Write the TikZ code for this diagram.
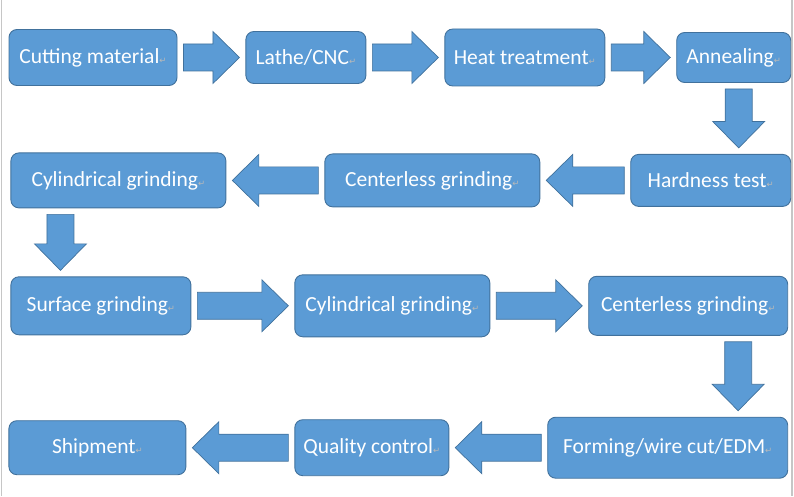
\documentclass[tikz,border=0pt]{standalone}
\usepackage{fontspec}
\setmainfont{Carlito}
\newfontfamily\markfont{DejaVu Sans}
\usepackage{tikz}
\usetikzlibrary{positioning, calc}
\usepackage{xcolor}
\definecolor{boxblue}{HTML}{5B9BD5}
\definecolor{boxedge}{HTML}{41719C}
\definecolor{markgray}{HTML}{B9B9B9}
\definecolor{pageedge}{HTML}{C6C6C6}

\newcommand{\pmark}{{\markfont\fontsize{8.5}{8.5}\selectfont\textcolor{markgray}{↵}}}
\newcommand{\stepflow}[2]{%
  \coordinate (fs) at ($#1!6pt!#2$);
  \coordinate (ft) at ($#2!6pt!#1$);
  \coordinate (fh) at ($(ft)!26.5pt!(fs)$);
  \draw[flow] ($(fs)!13.5pt!90:(ft)$) -- ($(fh)!13.5pt!90:(ft)$)
    -- ($(fh)!26pt!90:(ft)$) -- (ft) -- ($(fh)!26pt!-90:(ft)$)
    -- ($(fh)!13.5pt!-90:(ft)$) -- ($(fs)!13.5pt!-90:(ft)$) -- cycle;}

\begin{document}
\begin{tikzpicture}[
    node distance=68pt,
    every node/.style={font=\fontsize{21.5}{25}\selectfont},
    stepbox/.style={draw=boxedge, fill=boxblue, text=white, rounded corners=8pt, line width=0.9pt, align=center, inner sep=0pt},
    flow/.style={draw=boxedge, fill=boxblue, line width=0.7pt, line join=miter}
]
    \useasboundingbox (0,0) rectangle (794pt,496pt);
    \draw[pageedge, line width=1.2pt] (1.5pt,0) -- (1.5pt,496pt);
    \draw[pageedge, line width=1.2pt] (792pt,0) -- (792pt,496pt);

    % first row
    \node[stepbox, minimum width=168pt, minimum height=56pt] (cut) at (93pt,438.5pt) {Cutting material\pmark};
    \node[stepbox, minimum width=120pt, minimum height=52pt, right=68pt of cut] (lathe) {Lathe/CNC\pmark};
    \node[stepbox, minimum width=160pt, minimum height=57pt, right=78pt of lathe] (heat) {Heat treatment\pmark};
    \node[stepbox, minimum width=114pt, minimum height=50pt, right=71pt of heat] (anneal) {Annealing\pmark};

    % second row
    \node[stepbox, minimum width=160pt, minimum height=52pt, below=71pt of anneal.south east, anchor=north east] (hard) {Hardness test\pmark};
    \node[stepbox, minimum width=215pt, minimum height=53pt, left=90pt of hard] (cless1) {Centerless grinding\pmark};
    \node[stepbox, minimum width=215pt, minimum height=55pt, left=98pt of cless1] (cyl1) {Cylindrical grinding\pmark};

    % third row
    \node[stepbox, minimum width=180pt, minimum height=58pt, below=68pt of cyl1.south west, anchor=north west] (surf) {Surface grinding\pmark};
    \node[stepbox, minimum width=195pt, minimum height=62pt, right=103pt of surf] (cyl2) {Cylindrical grinding\pmark};
    \node[stepbox, minimum width=199pt, minimum height=59pt, right=98pt of cyl2] (cless2) {Centerless grinding\pmark};

    % fourth row
    \node[stepbox, minimum width=240pt, minimum height=61pt, below=81pt of cless2.south east, anchor=north east] (form) {Forming/wire cut/EDM\pmark};
    \node[stepbox, minimum width=154pt, minimum height=56pt, left=98pt of form] (qual) {Quality control\pmark};
    \node[stepbox, minimum width=177pt, minimum height=54pt, left=108pt of qual] (ship) {Shipment\pmark};

    % block arrows
    \stepflow{(cut.east)}{(cut.east -| lathe.west)}
    \stepflow{(lathe.east)}{(lathe.east -| heat.west)}
    \stepflow{(heat.east)}{(heat.east -| anneal.west)}
    \coordinate (d1) at ([xshift=5pt]anneal.south);
    \stepflow{(d1)}{(d1 |- hard.north)}
    \stepflow{(hard.west)}{(hard.west -| cless1.east)}
    \stepflow{(cless1.west)}{(cless1.west -| cyl1.east)}
    \coordinate (d2) at ([xshift=50pt]cyl1.south west);
    \stepflow{(d2)}{(d2 |- surf.north)}
    \stepflow{(surf.east)}{(surf.east -| cyl2.west)}
    \stepflow{(cyl2.east)}{(cyl2.east -| cless2.west)}
    \coordinate (d3) at ([xshift=-50pt]cless2.south east);
    \stepflow{(d3)}{(d3 |- form.north)}
    \stepflow{(form.west)}{(form.west -| qual.east)}
    \stepflow{(qual.west)}{(qual.west -| ship.east)}
\end{tikzpicture}
\end{document}
